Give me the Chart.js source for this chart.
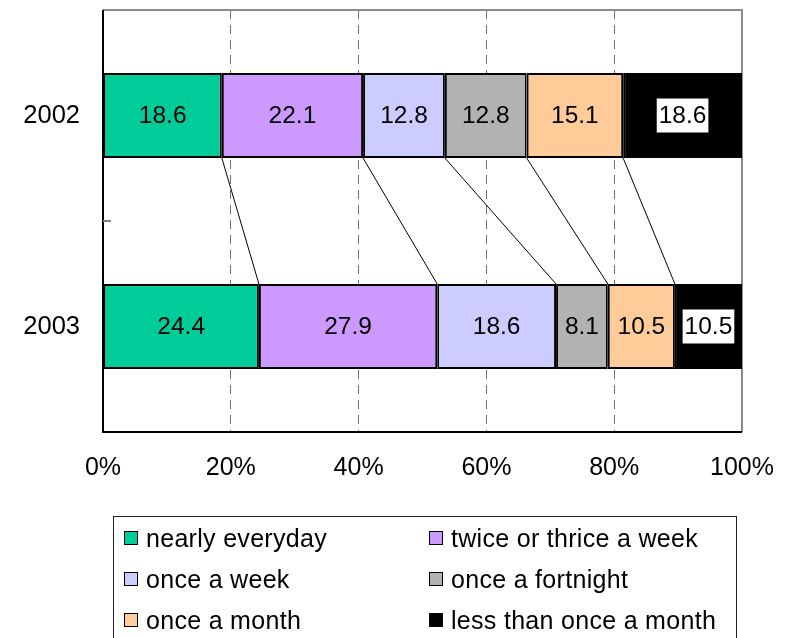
<!DOCTYPE html>
<html>
<head>
<meta charset="utf-8">
<script src="https://cdn.jsdelivr.net/npm/chart.js@4/dist/chart.umd.min.js"></script>
<style>
  body { margin: 0; background: #fff; overflow: hidden; }
  #wrap { position: relative; width: 785px; height: 638px; }
  #legend {
    position: absolute; left: 113px; top: 516px; width: 624px; height: 140px;
    border: 1px solid #222; box-sizing: border-box;
    font-family: "Liberation Sans", Arial, sans-serif; font-size: 25px; letter-spacing: 0.3px; color: #000;
  }
  .item { position: absolute; display: flex; align-items: center; height: 28px; white-space: nowrap; }
  .box { width: 12px; height: 12px; border: 1.5px solid #000; margin-right: 8px; }
</style>
</head>
<body>
<div id="wrap">
  <canvas id="chart" width="785" height="638"></canvas>
  <div id="legend"></div>
</div>
<script>
// dados
const years = ['2002', '2003'];
const seriesNames = ['nearly everyday', 'twice or thrice a week', 'once a week', 'once a fortnight', 'once a month', 'less than once a month'];
const nearlyEveryday = [18.6, 24.4];
const twiceThrice = [22.1, 27.9];
const onceWeek = [12.8, 18.6];
const onceFortnight = [12.8, 8.1];
const onceMonth = [15.1, 10.5];
const lessThanMonth = [18.6, 10.5];
const xTicks = [0, 20, 40, 60, 80, 100];

const colors = ['#00CC99', '#CC99FF', '#CCCCFF', '#B2B2B2', '#FFCC99', '#000000'];
const allValues = [nearlyEveryday, twiceThrice, onceWeek, onceFortnight, onceMonth, lessThanMonth];
const FONT = '"Liberation Sans", Arial, sans-serif';

// moldura da área do gráfico + tick do eixo das categorias
const framePlugin = {
  id: 'frame',
  beforeDatasetsDraw(chart) {
    const { ctx, chartArea: a } = chart;
    ctx.save();
    ctx.lineWidth = 2;
    ctx.strokeStyle = '#8c8c8c';
    ctx.beginPath();
    ctx.moveTo(a.left, a.top); ctx.lineTo(a.right, a.top); ctx.lineTo(a.right, a.bottom);
    ctx.stroke();
    ctx.strokeStyle = '#000';
    ctx.beginPath();
    ctx.moveTo(a.left, a.top); ctx.lineTo(a.left, a.bottom); ctx.lineTo(a.right, a.bottom);
    ctx.stroke();
    const y = chart.scales.y;
    const mid = (y.getPixelForValue(0) + y.getPixelForValue(1)) / 2;
    ctx.strokeStyle = '#808080';
    ctx.beginPath();
    ctx.moveTo(a.left, mid); ctx.lineTo(a.left + 8, mid);
    ctx.stroke();
    ctx.restore();
  }
};

// linhas de ligação entre as barras
const seriesLinesPlugin = {
  id: 'seriesLines',
  afterDatasetsDraw(chart) {
    const ctx = chart.ctx;
    ctx.save();
    ctx.strokeStyle = '#000';
    ctx.lineWidth = 1;
    for (let i = 0; i < allValues.length - 1; i++) {
      const bars = chart.getDatasetMeta(i).data;
      const a = bars[0], b = bars[1];
      ctx.beginPath();
      ctx.moveTo(a.x, a.y + a.height / 2);
      ctx.lineTo(b.x, b.y - b.height / 2);
      ctx.stroke();
    }
    ctx.restore();
  }
};

// rótulos dos valores
const labelsPlugin = {
  id: 'valueLabels',
  afterDatasetsDraw(chart) {
    const ctx = chart.ctx;
    ctx.save();
    ctx.font = '24.5px ' + FONT;
    ctx.textAlign = 'center';
    ctx.textBaseline = 'middle';
    chart.data.datasets.forEach((ds, i) => {
      chart.getDatasetMeta(i).data.forEach((bar, j) => {
        const txt = ds.data[j].toFixed(1);
        const cx = (bar.x + bar.base) / 2;
        if (i === allValues.length - 1) {
          const w = ctx.measureText(txt).width + 4;
          ctx.fillStyle = '#fff';
          ctx.fillRect(cx - w / 2, bar.y - 17, w, 34);
        }
        ctx.fillStyle = '#000';
        ctx.fillText(txt, cx, bar.y + 1);
      });
    });
    ctx.restore();
  }
};

function noPad(scale) {
  scale.paddingTop = 0; scale.paddingBottom = 0;
  scale.paddingLeft = 0; scale.paddingRight = 0;
}

const chart = new Chart(document.getElementById('chart'), {
  type: 'bar',
  data: {
    labels: years,
    datasets: allValues.map((vals, i) => ({
      label: seriesNames[i],
      data: vals,
      backgroundColor: colors[i],
      borderColor: '#000',
      borderWidth: 2,
      borderSkipped: false,
      categoryPercentage: 1,
      barPercentage: 0.403
    }))
  },
  options: {
    indexAxis: 'y',
    responsive: false,
    animation: false,
    layout: { padding: { top: 10, right: 43, bottom: 146, left: 0 } },
    plugins: { legend: { display: false }, tooltip: { enabled: false } },
    scales: {
      x: {
        stacked: true,
        min: 0,
        max: 100,
        afterBuildTicks(scale) { scale.ticks = xTicks.map(v => ({ value: v })); },
        afterFit(scale) { scale.height = 60; noPad(scale); },
        border: { display: false, dash: [9, 6] },
        grid: {
          drawTicks: false,
          lineWidth: 1,
          color: c => (c.tick && (c.tick.value === 0 || c.tick.value === 100)) ? 'rgba(0,0,0,0)' : '#6e6e6e'
        },
        ticks: {
          padding: 21,
          color: '#000',
          font: { family: FONT, size: 25 },
          callback: v => v + '%'
        }
      },
      y: {
        stacked: true,
        afterFit(scale) { scale.width = 103; noPad(scale); },
        border: { display: false },
        grid: { display: false, drawTicks: false },
        ticks: { padding: 23, color: '#000', font: { family: FONT, size: 25.5 } }
      }
    }
  },
  plugins: [framePlugin, seriesLinesPlugin, labelsPlugin]
});

// legenda em HTML (2 colunas)
const legend = document.getElementById('legend');
seriesNames.forEach((name, i) => {
  const item = document.createElement('div');
  item.className = 'item';
  item.style.left = (i % 2 === 0 ? 10 : 315) + 'px';
  item.style.top = (7 + Math.floor(i / 2) * 41) + 'px';
  item.innerHTML = '<span class="box" style="background:' + colors[i] + '"></span><span>' + name + '</span>';
  legend.appendChild(item);
});
</script>
</body>
</html>
